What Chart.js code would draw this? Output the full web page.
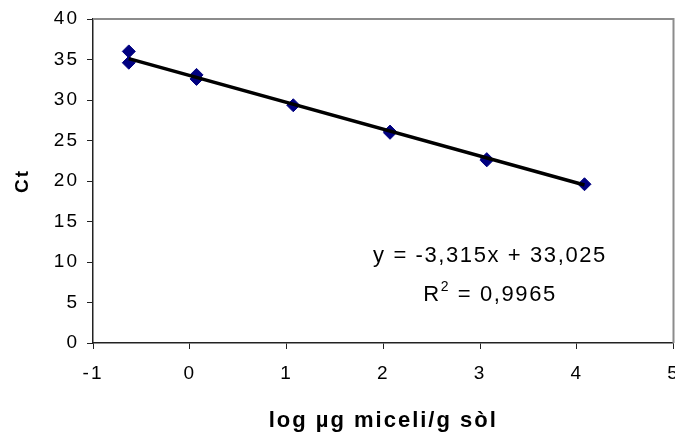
<!DOCTYPE html>
<html><head><meta charset="utf-8">
<script src="https://cdn.jsdelivr.net/npm/chart.js@4.4.0/dist/chart.umd.min.js"></script>
<style>html,body{margin:0;padding:0;background:#fff;overflow:hidden}#wrap{width:675px;height:434px;position:relative;overflow:hidden}canvas{display:block}</style>
</head><body><div id="wrap"><canvas id="c" width="681" height="434"></canvas></div>
<script>
// Data
const logMass = [-0.63, -0.63, 0.07, 0.07, 1.07, 2.07, 2.07, 3.07, 3.07, 4.08];
const ctValues = [36.0, 34.6, 33.1, 32.6, 29.35, 26.1, 25.95, 22.7, 22.55, 19.6];
const fitX = [-0.63, 4.08];
const fitY = [35.11, 19.5];
const xTicks = [-1, 0, 1, 2, 3, 4, 5];
const yTicks = [0, 5, 10, 15, 20, 25, 30, 35, 40];
const xTitle = 'log µg miceli/g sòl';
const yTitle = 'Ct';
const eqText = 'y = -3,315x + 33,025';
const r2Value = ' = 0,9965';

const FONT = "'Liberation Sans', Arial, sans-serif";

const framePlugin = {
  id: 'frame',
  beforeDraw(chart) { chart.ctx.letterSpacing = '2px'; },
  afterDraw(chart) {
    const ctx = chart.ctx, a = chart.chartArea;
    ctx.save();
    ctx.strokeStyle = '#8c8c8c';
    ctx.lineWidth = 2;
    ctx.beginPath();
    ctx.moveTo(a.left, a.top);
    ctx.lineTo(a.right, a.top);
    ctx.lineTo(a.right, a.bottom);
    ctx.stroke();
    // equation annotation
    ctx.fillStyle = '#000';
    ctx.letterSpacing = '1.6px';
    ctx.textBaseline = 'alphabetic';
    ctx.font = '22px ' + FONT;
    const cx = 490;
    ctx.textAlign = 'center';
    ctx.fillText(eqText, cx, 262);
    // R² line
    ctx.textAlign = 'left';
    const wR = ctx.measureText('R').width;
    const wRest = ctx.measureText(r2Value).width;
    ctx.font = '14px ' + FONT;
    const w2 = ctx.measureText('2').width;
    const total = wR + w2 + wRest;
    let x = cx - total / 2;
    ctx.font = '22px ' + FONT;
    ctx.fillText('R', x, 301);
    x += wR;
    ctx.font = '14px ' + FONT;
    ctx.fillText('2', x, 291);
    x += w2;
    ctx.font = '22px ' + FONT;
    ctx.fillText(r2Value, x, 301);
    ctx.restore();
  }
};

new Chart(document.getElementById('c'), {
  type: 'scatter',
  data: {
    datasets: [
      {
        label: 'fit',
        data: fitX.map((x, i) => ({ x, y: fitY[i] })),
        showLine: true,
        borderColor: '#000',
        borderWidth: 3.5,
        pointRadius: 0,
        fill: false
      },
      {
        label: 'Ct',
        data: logMass.map((x, i) => ({ x, y: ctValues[i] })),
        pointStyle: 'rectRot',
        pointRadius: 6.5,
        backgroundColor: '#000080',
        borderColor: '#000080',
        borderWidth: 1
      }
    ]
  },
  options: {
    responsive: false,
    animation: false,
    devicePixelRatio: 1,
    layout: { padding: { top: 19, right: 3.5, left: 0, bottom: 0 } },
    plugins: { legend: { display: false }, tooltip: { enabled: false } },
    scales: {
      x: {
        type: 'linear',
        min: -1, max: 5,
        afterBuildTicks: s => { s.ticks = xTicks.map(v => ({ value: v })); },
        grid: { display: true, drawOnChartArea: false, drawTicks: true, tickLength: 6, color: '#222', lineWidth: 1 },
        border: { display: true, color: '#222', width: 1.5 },
        ticks: { color: '#000', font: { family: FONT, size: 19 }, padding: 13, maxRotation: 0, autoSkip: false },
        title: { display: true, text: xTitle, color: '#000', font: { family: FONT, size: 22, weight: 'bold' }, padding: { top: 2, bottom: 0 } },
        afterFit: s => { s.height = 91; s.paddingLeft = 0; s.paddingRight = 0; }
      },
      y: {
        type: 'linear',
        min: 0, max: 40,
        afterBuildTicks: s => { s.ticks = yTicks.map(v => ({ value: v })); },
        grid: { display: true, drawOnChartArea: false, drawTicks: true, tickLength: 6, color: '#222', lineWidth: 1 },
        border: { display: true, color: '#222', width: 1.5 },
        ticks: { color: '#000', font: { family: FONT, size: 19 }, padding: 8, autoSkip: false },
        title: { display: true, text: yTitle, color: '#000', font: { family: FONT, size: 19, weight: 'bold' }, padding: { top: 11, bottom: 0 } },
        afterFit: s => { s.width = 93; s.paddingTop = 0; s.paddingBottom = 0; }
      }
    }
  },
  plugins: [framePlugin]
});
</script>
</body></html>
